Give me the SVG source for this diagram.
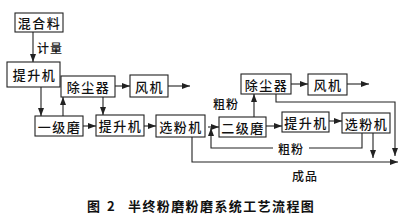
<svg xmlns="http://www.w3.org/2000/svg" width="415" height="217" viewBox="0 0 415 217">
<style>
.box{fill:#fff;stroke:#222;stroke-width:1.1}
.t{font-family:"Noto Sans CJK SC","Noto Sans",sans-serif;font-size:13px;font-weight:500;fill:#111;text-anchor:middle;dominant-baseline:central;letter-spacing:1.5px}
.l{font-family:"Noto Sans CJK SC","Noto Sans",sans-serif;font-size:12px;font-weight:500;fill:#111;text-anchor:middle;dominant-baseline:central;letter-spacing:1px}
.c{fill:none;stroke:#222;stroke-width:1.1}
.cap{font-family:"Noto Sans CJK SC","Noto Sans",sans-serif;font-size:13px;font-weight:bold;fill:#111;dominant-baseline:central}
</style>
<defs>
<marker id="a" viewBox="0 0 8 6" refX="8" refY="3" markerWidth="8" markerHeight="6" markerUnits="userSpaceOnUse" orient="auto">
<path d="M0,0 L8,3 L0,6 z" fill="#222"/>
</marker>
</defs>
<g id="connectors">
<path class="c" d="M33,32 V62" marker-end="url(#a)"/>
<path class="c" d="M115,86 H130" marker-end="url(#a)"/>
<path class="c" d="M168,86 H190" marker-end="url(#a)"/>
<path class="c" d="M41,87 V116" marker-end="url(#a)"/>
<path class="c" d="M63,116 V97" marker-end="url(#a)"/>
<path class="c" d="M103,97 V115" marker-end="url(#a)"/>
<path class="c" d="M83,126 H96" marker-end="url(#a)"/>
<path class="c" d="M144,126 H156" marker-end="url(#a)"/>
<path class="c" d="M208,127 H219" marker-end="url(#a)"/>
<path class="c" d="M362,133 V148 H309"/>
<path class="c" d="M273,148 H211 V128" marker-end="url(#a)"/>
<path class="c" d="M254,117 V94" marker-end="url(#a)"/>
<path class="c" d="M291,84 H308" marker-end="url(#a)"/>
<path class="c" d="M347,84 H369" marker-end="url(#a)"/>
<path class="c" d="M276,94 V102 H395 V156" marker-end="url(#a)"/>
<path class="c" d="M266,126 H282" marker-end="url(#a)"/>
<path class="c" d="M329,121 H342" marker-end="url(#a)"/>
<path class="c" d="M373,133 V158" marker-end="url(#a)"/>
<path class="c" d="M192,137 V162 H398" marker-end="url(#a)"/>
<text class="l" x="50" y="47">计量</text>
<text class="l" x="226" y="103">粗粉</text>
<text class="l" x="291" y="148">粗粉</text>
<text class="l" x="305" y="175">成品</text>
</g>
<g id="n1"><rect class="box" x="15" y="13" width="48" height="19"/><text class="t" x="39.5" y="22.5">混合料</text></g>
<g id="n2"><rect class="box" x="7" y="62" width="53" height="25"/><text class="t" x="34.5" y="74.5">提升机</text></g>
<g id="n3"><rect class="box" x="61" y="76" width="54" height="21"/><text class="t" x="88.5" y="86.5">除尘器</text></g>
<g id="n4"><rect class="box" x="130" y="75" width="38" height="22"/><text class="t" x="149.5" y="86">风机</text></g>
<g id="n5"><rect class="box" x="35" y="116" width="48" height="20"/><text class="t" x="59.5" y="126">一级磨</text></g>
<g id="n6"><rect class="box" x="96" y="115" width="48" height="21"/><text class="t" x="120.5" y="125.5">提升机</text></g>
<g id="n7"><rect class="box" x="156" y="115" width="49" height="22"/><text class="t" x="181" y="126">选粉机</text></g>
<g id="n8"><rect class="box" x="219" y="117" width="47" height="20"/><text class="t" x="243" y="127">二级磨</text></g>
<g id="n9"><rect class="box" x="241" y="74" width="50" height="20"/><text class="t" x="266.5" y="84">除尘器</text></g>
<g id="n10"><rect class="box" x="308" y="74" width="39" height="21"/><text class="t" x="328" y="84.5">风机</text></g>
<g id="n11"><rect class="box" x="282" y="112" width="47" height="20"/><text class="t" x="306" y="122">提升机</text></g>
<g id="n12"><rect class="box" x="342" y="113" width="48" height="20"/><text class="t" x="366.5" y="123">选粉机</text></g>
<text class="cap" x="87" y="205" style="letter-spacing:2px">图 2</text>
<text class="cap" x="128" y="205" style="letter-spacing:1.4px">半终粉磨粉磨系统工艺流程图</text>
</svg>
